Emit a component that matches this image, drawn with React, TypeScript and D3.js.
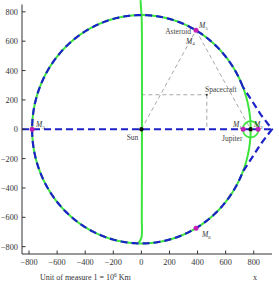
import React from "react";
import * as d3 from "d3";

const W = 279;
const H = 289;

// Orbit radius of Jupiter (10^6 km)
const orbitRadius = [778];
const hillRadius = [55];
const sun = [0, 0];
const jupiter = [778, 0];

// Lagrange-like points
const mPoints = [
  { name: "1", x: 725, y: 0 },
  { name: "2", x: 831, y: 0 },
  { name: "3", x: -778, y: 0 },
  { name: "4", x: 389, y: 674 },
  { name: "6", x: 389, y: -674 },
];

// Blue curve bulge near Jupiter (points outside the orbit)
const bulgeX = [721, 790, 850, 930, 850, 790, 721];
const bulgeY = [291, 190, 100, 0, -100, -190, -291];

// Green near-vertical curve
const greenX = [-6, -2, 2, 4, 4, 3, 0, -20];
const greenY = [880, 820, 760, 600, 0, -600, -740, -772];

const spacecraft = [466, 235];

const xTicks = [-800, -600, -400, -200, 0, 200, 400, 600, 800];
const yTicks = [-800, -600, -400, -200, 0, 200, 400, 600, 800];

const fmt = (v: number) => (v < 0 ? "\u2212" + Math.abs(v) : String(v));

export default function App() {
  const x = d3.scaleLinear().domain([-850, 930]).range([22, 272]);
  const y = d3.scaleLinear().domain([-850, 850]).range([254, 4.5]);

  const R = orbitRadius[0];
  const circlePts = (a0: number, a1: number, n = 360) =>
    d3.range(n + 1).map((i) => {
      const a = a0 + ((a1 - a0) * i) / n;
      return [R * Math.cos(a), R * Math.sin(a)] as [number, number];
    });
  const line = d3
    .line<[number, number]>()
    .x((d) => x(d[0]))
    .y((d) => y(d[1]));

  const fullCircle = line(circlePts(0, 2 * Math.PI, 720));
  const a0 = Math.atan2(bulgeY[0], bulgeX[0]);
  const bluePts: [number, number][] = [
    ...circlePts(a0, 2 * Math.PI - a0, 600),
    ...bulgeX
      .map((bx, i) => [bx, bulgeY[i]] as [number, number])
      .reverse(),
  ];
  const bluePath = line(bluePts);
  const greenPath = d3
    .line<number>()
    .x((d, i) => x(greenX[i]))
    .y((d, i) => y(greenY[i]))
    .curve(d3.curveCatmullRom)(greenX);

  const hr = hillRadius[0];
  const hill = line(
    d3.range(121).map((i) => {
      const a = (2 * Math.PI * i) / 120;
      return [jupiter[0] + hr * Math.cos(a), jupiter[1] + hr * Math.sin(a)] as [number, number];
    })
  );

  const blue = "#1c22c8";
  const green = "#3ee43e";
  const gray = "#a8a8a8";
  const magenta = "#c21fb8";
  const serif = "'Liberation Serif', 'Times New Roman', serif";
  const lab = "#444";

  const L4 = mPoints[3];

  return (
    <svg
      width={W}
      height={H}
      style={{ position: "absolute", left: 0, top: 0, background: "#fff" }}
      fontFamily={serif}
    >
      {/* gray dashed construction lines */}
      <g stroke={gray} strokeWidth={1} strokeDasharray="4,3" fill="none">
        <line x1={x(sun[0])} y1={y(sun[1])} x2={x(L4.x)} y2={y(L4.y)} />
        <line x1={x(L4.x)} y1={y(L4.y)} x2={x(jupiter[0])} y2={y(jupiter[1])} />
        <line x1={x(0)} y1={y(spacecraft[1])} x2={x(spacecraft[0])} y2={y(spacecraft[1])} />
        <line x1={x(spacecraft[0])} y1={y(spacecraft[1])} x2={x(spacecraft[0])} y2={y(0)} />
      </g>

      {/* green curves */}
      <path d={fullCircle || ""} stroke={green} strokeWidth={2} fill="none" />
      <path d={greenPath || ""} stroke={green} strokeWidth={2} fill="none" />
      <path d={hill || ""} stroke={green} strokeWidth={1.8} fill="none" />

      {/* blue dashed */}
      <path d={bluePath || ""} stroke={blue} strokeWidth={2.2} strokeDasharray="7,4" fill="none" />
      <line
        x1={x(-850)}
        y1={y(0)}
        x2={x(930)}
        y2={y(0)}
        stroke={blue}
        strokeWidth={2.2}
        strokeDasharray="7,4"
      />

      {/* axes */}
      <g stroke="#333" strokeWidth={1}>
        <line x1={22} y1={4.5} x2={22} y2={254} />
        <line x1={22} y1={254} x2={272} y2={254} />
        {xTicks.map((t) => (
          <line key={"xt" + t} x1={x(t)} x2={x(t)} y1={254} y2={250.5} />
        ))}
        {yTicks.map((t) => (
          <line key={"yt" + t} x1={22} x2={25.5} y1={y(t)} y2={y(t)} />
        ))}
      </g>
      <g fill="#333" fontSize={8.3}>
        {xTicks.map((t) => (
          <text key={"xl" + t} x={x(t)} y={265} textAnchor="middle">
            {fmt(t)}
          </text>
        ))}
        {yTicks.map((t) => (
          <text key={"yl" + t} x={18} y={y(t) + 3} textAnchor="end">
            {fmt(t)}
          </text>
        ))}
      </g>
      <text x={40} y={280} fontSize={8} fill="#333">
        Unit of measure 1 = 10<tspan dy={-3} fontSize={5.5}>6</tspan>
        <tspan dy={3}> Km</tspan>
      </text>
      <text x={253} y={280} fontSize={8} fill="#333">
        x
      </text>

      {/* points */}
      {mPoints.map((p) => (
        <circle key={"m" + p.name} cx={x(p.x)} cy={y(p.y)} r={2.5} fill={magenta} />
      ))}
      <circle cx={x(sun[0])} cy={y(sun[1])} r={2.2} fill="#111" />
      <circle cx={x(jupiter[0])} cy={y(jupiter[1])} r={2.2} fill="#111" />
      <circle cx={x(spacecraft[0])} cy={y(spacecraft[1])} r={0.9} fill="#222" />

      {/* labels */}
      <g fill={lab} fontSize={7.5}>
        <text x={x(sun[0]) - 3} y={140} textAnchor="end">Sun</text>
        <text x={222} y={141}>Jupiter</text>
        <text x={205} y={92}>Spacecraft</text>
        <text x={191} y={34} textAnchor="end">Asteroid</text>
      </g>
      <g fill="#333" fontSize={7.5} fontStyle="italic">
        {[
          { s: "3", tx: 36, ty: 127 },
          { s: "1", tx: 233, ty: 127 },
          { s: "2", tx: 254, ty: 127 },
          { s: "5", tx: 199, ty: 28 },
          { s: "4", tx: 186, ty: 43.5 },
          { s: "6", tx: 202, ty: 237 },
        ].map((l) => (
          <text key={"lab" + l.s} x={l.tx} y={l.ty}>
            M<tspan dy={1.8} fontSize={5} fontStyle="normal">{l.s}</tspan>
          </text>
        ))}
      </g>
    </svg>
  );
}
